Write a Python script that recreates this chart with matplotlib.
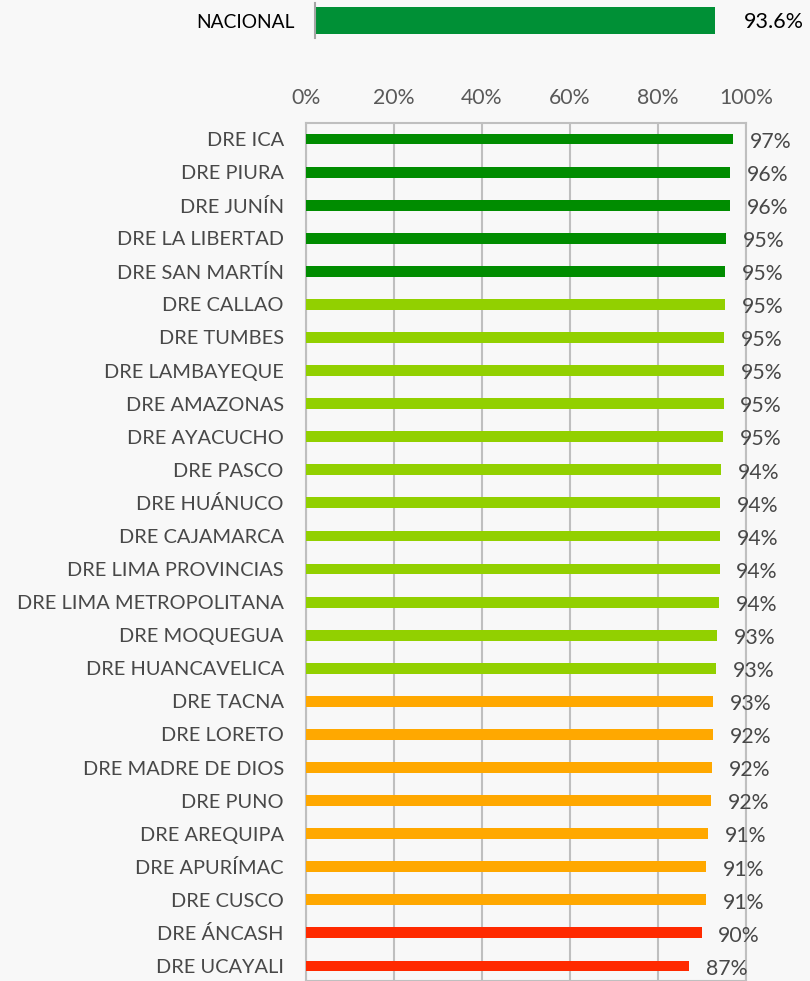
import matplotlib.pyplot as plt

# Data
regiones = ['DRE ICA', 'DRE PIURA', 'DRE JUNÍN', 'DRE LA LIBERTAD', 'DRE SAN MARTÍN',
            'DRE CALLAO', 'DRE TUMBES', 'DRE LAMBAYEQUE', 'DRE AMAZONAS', 'DRE AYACUCHO',
            'DRE PASCO', 'DRE HUÁNUCO', 'DRE CAJAMARCA', 'DRE LIMA PROVINCIAS',
            'DRE LIMA METROPOLITANA', 'DRE MOQUEGUA', 'DRE HUANCAVELICA', 'DRE TACNA',
            'DRE LORETO', 'DRE MADRE DE DIOS', 'DRE PUNO', 'DRE AREQUIPA', 'DRE APURÍMAC',
            'DRE CUSCO', 'DRE ÁNCASH', 'DRE UCAYALI']
valores = [97.0, 96.4, 96.3, 95.4, 95.3, 95.2, 95.1, 95.0, 94.9, 94.8,
           94.4, 94.2, 94.1, 94.0, 93.8, 93.4, 93.2, 92.6, 92.5, 92.3,
           92.0, 91.4, 91.0, 90.9, 89.9, 87.1]
grupos = ['alto'] * 5 + ['medio'] * 12 + ['bajo'] * 7 + ['critico'] * 2
nacional = 93.6

colores = {'alto': '#008c00', 'medio': '#92d000', 'bajo': '#ffa800', 'critico': '#ff2a00'}
texto = '#484848'
gris = '#bfbfbf'

plt.rcParams['font.family'] = ['Lato', 'DejaVu Sans']

fig = plt.figure(figsize=(8.1, 9.81), dpi=100)
fig.patch.set_facecolor('#f8f8f8')

# Barra nacional
ax0 = fig.add_axes([315 / 810, 1 - 38 / 981, 427 / 810, 35 / 981])
ax0.set_facecolor('none')
ax0.barh([0], [nacional], height=0.77, color='#009036')
ax0.set_xlim(0, 100)
ax0.set_ylim(-0.5, 0.5)
for s in ['top', 'right', 'bottom']:
    ax0.spines[s].set_visible(False)
ax0.spines['left'].set_color('#a6a6a6')
ax0.spines['left'].set_linewidth(1.5)
ax0.set_xticks([])
ax0.set_yticks([0])
ax0.set_yticklabels(['NACIONAL'], fontsize=13.8, color='#000000')
ax0.tick_params(axis='y', length=0, pad=15)
ax0.annotate(f'{nacional:.1f}%', (nacional, 0), xytext=(21, -1), textcoords='offset points',
             va='center', ha='left', fontsize=15.5, color='#000000')

# Barras por región
n = len(regiones)
sp = 33.08
ax = fig.add_axes([306 / 810, 0, 440 / 810, (981 - 123) / 981])
ax.set_facecolor('none')
ypos = list(range(n))
ax.barh(ypos, valores, height=0.33, color=[colores[g] for g in grupos], zorder=3)
ax.set_xlim(0, 100)
ax.set_ylim(n - 1 + 15 / sp, -16 / sp)
ax.set_xticks([0, 20, 40, 60, 80, 100])
ax.set_xticklabels(['0%', '20%', '40%', '60%', '80%', '100%'], fontsize=15.3, color='#595959')
ax.xaxis.tick_top()
ax.tick_params(axis='x', length=0, pad=11)
ax.set_yticks(ypos)
ax.set_yticklabels(regiones, fontsize=14.4, color=texto)
ax.tick_params(axis='y', length=0, pad=16)
ax.grid(axis='x', color=gris, linewidth=1.5, zorder=0)
for s in ax.spines.values():
    s.set_color(gris)
    s.set_linewidth(1.5)

for y, v in zip(ypos, valores):
    ax.annotate(f'{v:.0f}%', (v, y), xytext=(12, -2), textcoords='offset points',
                va='center', ha='left', fontsize=15.3, color=texto)

plt.savefig('out.png', dpi=100, facecolor=fig.get_facecolor())
